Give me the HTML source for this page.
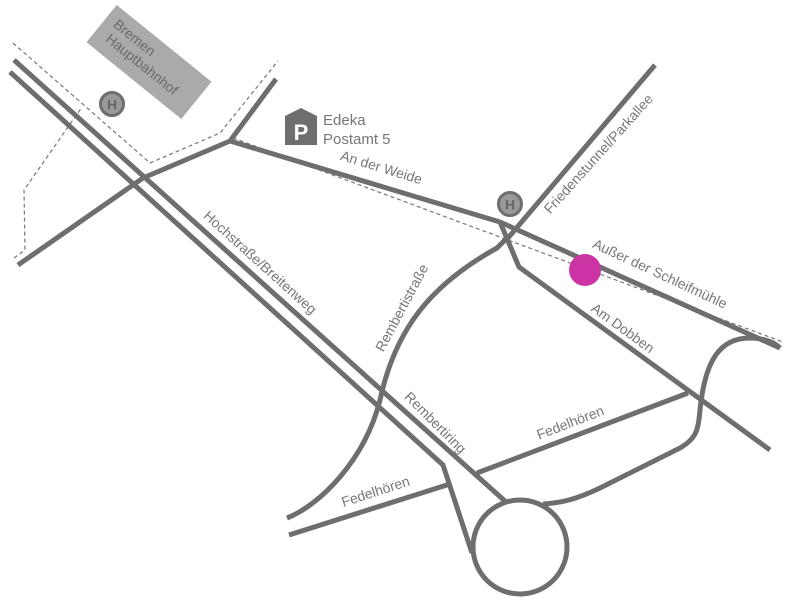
<!DOCTYPE html>
<html><head><meta charset="utf-8"><style>
html,body{margin:0;padding:0;background:#fff;width:793px;height:600px;overflow:hidden}
svg{display:block}
.l{font-family:"Liberation Sans",sans-serif;fill:#777;font-size:14px}
</style></head><body>
<svg width="793" height="600" viewBox="0 0 793 600" xmlns="http://www.w3.org/2000/svg">
<g fill="none" stroke="#777" stroke-width="1.2" stroke-dasharray="4,3">
<path d="M13,43 L150,163 L220,133 L278,61"/>
<path d="M14,258 L25,250 L24,190 L82,107"/>
<path d="M233,138 L783,342"/>
</g>
<rect x="88" y="38" width="122" height="48" fill="#aaa" transform="rotate(39 149 62)"/>
<text class="l" transform="translate(149,62) rotate(39)" style="fill:#6a6a6a;font-size:14px"><tspan x="-51" y="-5">Bremen</tspan><tspan x="-48" y="11">Hauptbahnhof</tspan></text>
<g fill="none" stroke="#6e6e6e" stroke-width="5" stroke-linejoin="round">
<path d="M14,60 L506,502"/>
<path d="M10,72 L443,465 L472,553"/>
<path d="M18,265 L143,178 L230,141 L276,79"/>
<path d="M230,141 L500,222 L780,348"/>
<path d="M655,65 L508,238"/>
<path d="M500,222 L519,267 L770,450"/>
<path d="M507,238 L497,248 C430,285 395,330 380,400 C365,460 320,505 287,518"/>
<path d="M289,535 L450,484"/>
<path d="M477,473 L688,393"/>
<path d="M543,504 C560,503 575,500 600,488 L680,448 C697,438 698,430 700,410 C705,360 720,338 750,338 C765,338 775,343 780,348"/>
<circle cx="520" cy="547" r="47"/>
</g>
<circle cx="585" cy="270" r="16" fill="#cc33a5"/>
<circle cx="112" cy="104" r="11.5" fill="#999" stroke="#6e6e6e" stroke-width="3"/>
<text x="112" y="109.5" text-anchor="middle" style="font-family:'Liberation Sans',sans-serif;font-size:14px;font-weight:bold;fill:#666">H</text>
<circle cx="510" cy="204" r="11.5" fill="#999" stroke="#6e6e6e" stroke-width="3"/>
<text x="510" y="209.5" text-anchor="middle" style="font-family:'Liberation Sans',sans-serif;font-size:14px;font-weight:bold;fill:#666">H</text>
<path d="M285,116 L301,108 L317,116 L317,145 L285,145 Z" fill="#6e6e6e"/>
<text x="301" y="140" text-anchor="middle" style="font-family:'Liberation Sans',sans-serif;font-size:22px;font-weight:bold;fill:#fff">P</text>
<text class="l" x="323" y="125" style="font-size:15px">Edeka</text>
<text class="l" x="323" y="144" style="font-size:15px">Postamt 5</text>
<text class="l" transform="translate(380,172) rotate(17)" text-anchor="middle">An der Weide</text>
<text class="l" transform="translate(602,157) rotate(-48)" text-anchor="middle">Friedenstunnel/Parkallee</text>
<text class="l" transform="translate(658,278) rotate(25)" text-anchor="middle">Außer der Schleifmühle</text>
<text class="l" transform="translate(620,332) rotate(36)" text-anchor="middle">Am Dobben</text>
<text class="l" transform="translate(257,266) rotate(42)" text-anchor="middle">Hochstraße/Breitenweg</text>
<text class="l" transform="translate(406,310) rotate(-62)" text-anchor="middle">Rembertistraße</text>
<text class="l" transform="translate(432,426) rotate(45)" text-anchor="middle">Rembertiring</text>
<text class="l" transform="translate(572,427) rotate(-21)" text-anchor="middle">Fedelhören</text>
<text class="l" transform="translate(377,496) rotate(-18)" text-anchor="middle">Fedelhören</text>
</svg>
</body></html>
